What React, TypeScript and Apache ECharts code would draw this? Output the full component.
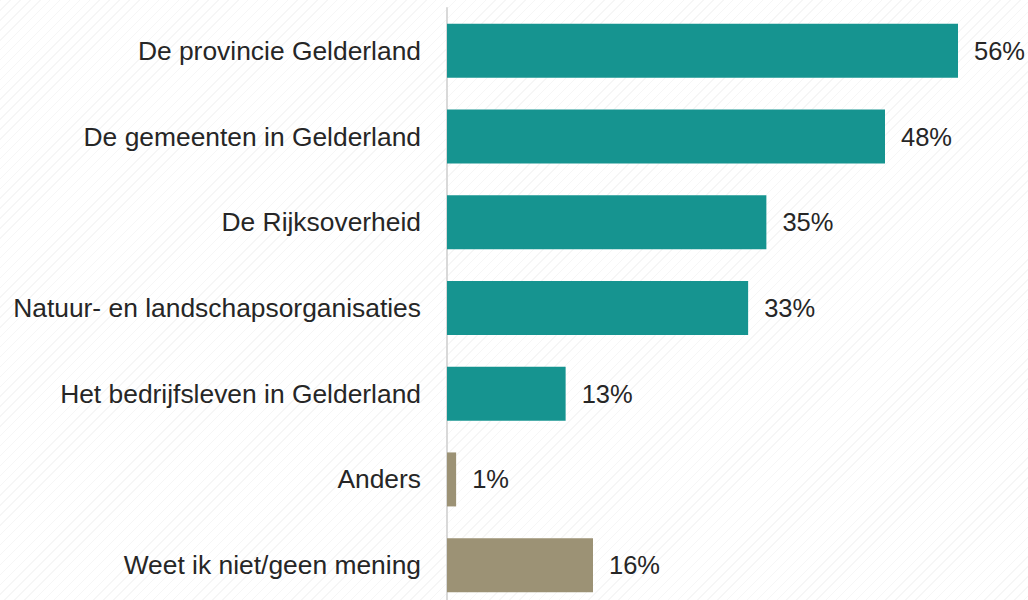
import React, { useEffect, useRef } from "react";
import * as echarts from "echarts";

const categories = [
  "De provincie Gelderland",
  "De gemeenten in Gelderland",
  "De Rijksoverheid",
  "Natuur- en landschapsorganisaties",
  "Het bedrijfsleven in Gelderland",
  "Anders",
  "Weet ik niet/geen mening",
];
const values = [56, 48, 35, 33, 13, 1, 16];
const barColors = ["#169490", "#169490", "#169490", "#169490", "#169490", "#9c9275", "#9c9275"];

export default function App() {
  const ref = useRef<HTMLDivElement>(null);
  useEffect(() => {
    if (!ref.current) return;
    const chart = echarts.init(ref.current, null, { renderer: "svg" });
    chart.setOption({
      animation: false,
      grid: { left: 447, top: 8, width: 547.5, height: 600, containLabel: false },
      xAxis: {
        type: "value",
        min: 0,
        max: 60,
        show: false,
      },
      yAxis: {
        type: "category",
        inverse: true,
        data: categories,
        axisLine: { show: true, lineStyle: { color: "#d9d9d9", width: 2 } },
        axisTick: { show: false },
        axisLabel: {
          margin: 26,
          fontFamily: "Liberation Sans, Arial, sans-serif",
          fontSize: 26.4,
          color: "#262626",
        },
      },
      series: [
        {
          type: "bar",
          barWidth: 54,
          data: values.map((v, i) => ({ value: v, itemStyle: { color: barColors[i] } })),
          label: {
            show: true,
            position: "right",
            distance: 16,
            formatter: "{c}%",
            fontFamily: "Liberation Sans, Arial, sans-serif",
            fontSize: 25.5,
            color: "#262626",
          },
        },
      ],
    });
    return () => chart.dispose();
  }, []);
  return (
    <div
      style={{
        position: "fixed",
        left: 0,
        top: 0,
        width: 1028,
        height: 600,
        overflow: "hidden",
        backgroundColor: "#ffffff",
        backgroundImage:
          "repeating-linear-gradient(135deg, rgba(0,0,0,0.035) 0px, rgba(0,0,0,0.035) 1px, transparent 1px, transparent 7px)",
      }}
    >
      <div ref={ref} style={{ width: 1028, height: 630 }} />
    </div>
  );
}
